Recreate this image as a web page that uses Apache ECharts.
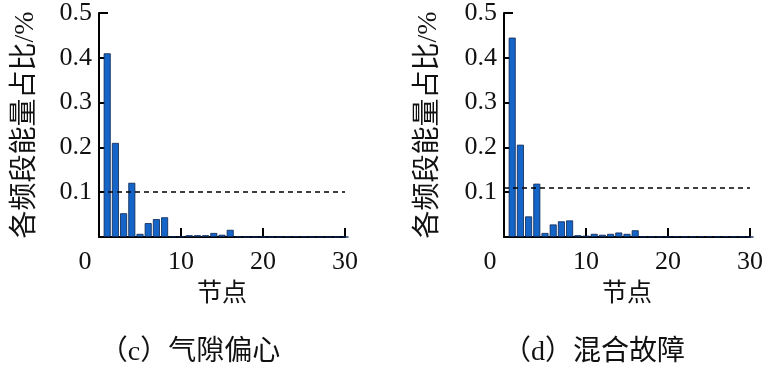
<!DOCTYPE html>
<html><head><meta charset="utf-8">
<script src="https://cdn.jsdelivr.net/npm/echarts@6/dist/echarts.min.js"></script>
<style>html,body{margin:0;padding:0;background:#fff}#c{width:776px;height:376px}</style>
</head><body><div id="c"></div>
<script>
const nodes = Array.from({length:30},(_,i)=>i+1);
const valuesC = [0.41,0.21,0.053,0.121,0.007,0.031,0.040,0.044,0.001,0.001,0.004,0.004,0.004,0.009,0.005,0.016,0.001,0,0,0,0,0,0.001,0.002,0.001,0,0,0,0,0];
const valuesD = [0.445,0.206,0.046,0.119,0.009,0.028,0.035,0.037,0.004,0.003,0.007,0.005,0.007,0.010,0.007,0.015,0.001,0.001,0.001,0.001,0.002,0.001,0.001,0.002,0.002,0.001,0.002,0.001,0.001,0];
const thresholdC = 0.104;
const thresholdD = 0.107;
const yTicks = [0,0.1,0.2,0.3,0.4,0.5];
const xTicks = [0,10,20,30];
const yName = '各频段能量占比/%';
const xName = '节点';
const captionC = '（c）气隙偏心';
const captionD = '（d）混合故障';

const serif = '"Liberation Serif","Times New Roman","Noto Sans CJK SC",serif';

function xAxisCfg(idx){
  return {
    gridIndex: idx, type:'value', min:xTicks[0], max:xTicks[xTicks.length-1], interval:10,
    name:xName, nameLocation:'middle', nameGap:45,
    nameTextStyle:{fontFamily:serif, fontSize:25, color:'#111'},
    axisLine:{onZero:false, lineStyle:{color:'#000', width:2}},
    axisTick:{inside:true, length:9, lineStyle:{color:'#000', width:2}},
    axisLabel:{margin:12, fontFamily:serif, fontSize:26, color:'#111',
      formatter:v=> v===0 ? '{z|0}' : String(v),
      rich:{z:{fontFamily:serif, fontSize:26, color:'#111', padding:[0,28,0,0]}}},
    splitLine:{show:false}
  };
}
function yAxisCfg(idx, gap){
  return {
    gridIndex: idx, type:'value', min:yTicks[0], max:yTicks[yTicks.length-1], interval:0.1,
    name:yName, nameLocation:'middle', nameGap:gap, nameRotate:90,
    nameTextStyle:{fontFamily:serif, fontSize:28, color:'#111'},
    axisLine:{show:true, lineStyle:{color:'#000', width:2}},
    axisTick:{inside:true, length:9, lineStyle:{color:'#000', width:2}},
    axisLabel:{margin:7, fontFamily:serif, fontSize:26, color:'#111',
      formatter:v=> v===0 ? '' : v.toFixed(1)},
    splitLine:{show:false}
  };
}
function barSeries(idx, vals, thr){
  return {
    type:'bar', xAxisIndex:idx, yAxisIndex:idx,
    data: nodes.map((n,i)=>[n, vals[i]]),
    barWidth:7,
    itemStyle:{color:'#1565c8', borderColor:'#0b2550', borderWidth:0.8},
    markLine:{silent:true, symbol:'none', label:{show:false},
      lineStyle:{color:'#000', type:[5,4], width:1.6},
      data:[{yAxis:thr}]}
  };
}
const chart = echarts.init(document.getElementById('c'), null, {renderer:'canvas'});
chart.setOption({
  animation:false,
  backgroundColor:'#fff',
  title:[
    {text:captionC, left:185, top:334, textAlign:'center', textStyle:{fontFamily:serif, fontSize:28, fontWeight:'normal', color:'#111'}},
    {text:captionD, left:589, top:334, textAlign:'center', textStyle:{fontFamily:serif, fontSize:28, fontWeight:'normal', color:'#111'}}
  ],
  grid:[
    {left:99, top:12, width:246, height:225},
    {left:504, top:11, width:246, height:226}
  ],
  xAxis:[xAxisCfg(0), xAxisCfg(1)],
  yAxis:[yAxisCfg(0,59), yAxisCfg(1,61)],
  series:[barSeries(0, valuesC, thresholdC), barSeries(1, valuesD, thresholdD)]
});
</script></body></html>
